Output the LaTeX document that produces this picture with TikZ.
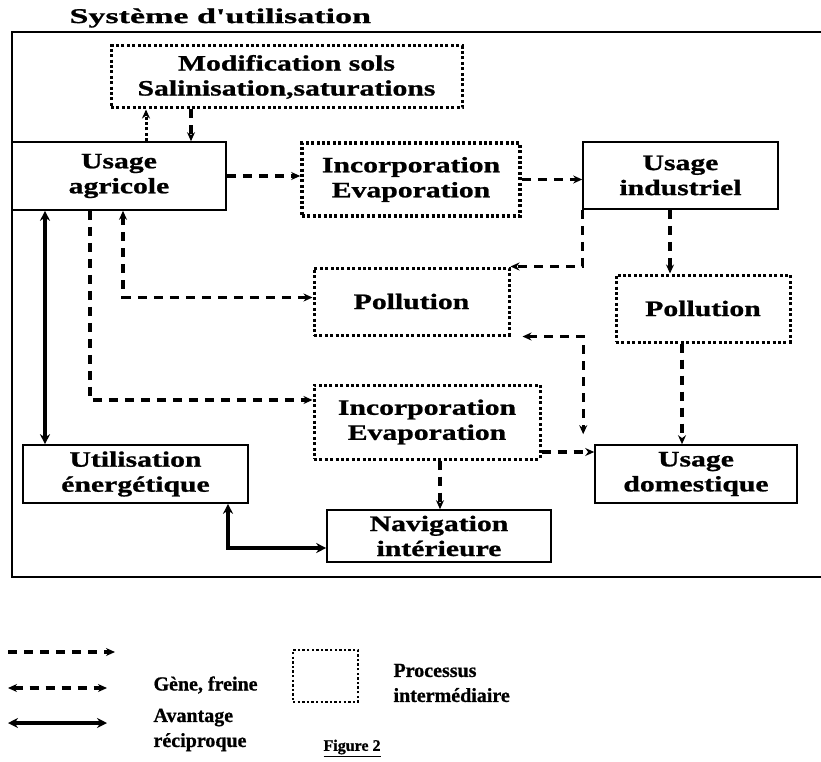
\documentclass[tikz,border=0pt]{standalone}
\usepackage{fontspec}
\setmainfont{Liberation Serif}[BoldFeatures={FakeBold=0.8}]
\newfontfamily\boxfont[FakeStretch=1.35, BoldFeatures={FakeBold=1}]{Liberation Serif}
\newfontfamily\titlefont[FakeStretch=1.62, BoldFeatures={FakeBold=1}]{Liberation Serif}
\usetikzlibrary{
  positioning,
  arrows.meta
}

\tikzset{
  usagebox/.style={draw, line width=1.6pt, align=center, inner sep=0pt,
    font=\boxfont\bfseries\fontsize{22}{25}\selectfont},
  processbox/.style={usagebox, line width=3pt, dash pattern=on 3pt off 2.4pt},
  gene/.style={line width=3.2pt, dash pattern=on 9pt off 7pt,
    -{Stealth[length=9pt,width=8pt]}},
  genedouble/.style={gene, {Stealth[length=9pt,width=8pt]}-{Stealth[length=9pt,width=8pt]}},
  genedot/.style={line width=3pt, dash pattern=on 3pt off 2.4pt,
    -{Stealth[length=9pt,width=8pt]}},
  avantage/.style={line width=3.8pt,
    {Stealth[length=10pt,width=10pt]}-{Stealth[length=10pt,width=10pt]}},
  legendtext/.style={anchor=west, align=left,
    font=\bfseries\fontsize{20}{25}\selectfont}
}

\begin{document}
\begin{tikzpicture}[x=1pt, y=-1pt]
  \useasboundingbox (0,0) rectangle (821,762);

  % frame and title
  \node[anchor=west, font=\titlefont\bfseries\fontsize{21}{24}\selectfont] (titre) at (66,18) {Système d'utilisation};
  \draw[line width=2.6pt] (821,32) -- (12,32) -- (12,577) -- (821,577);

  % usages
  \node[usagebox, minimum width=214pt, minimum height=68pt] (agri) at (119,176) {Usage\\agricole};
  \node[usagebox, minimum width=195pt, minimum height=67pt] (indus) at (680.5,175.5) {Usage\\industriel};
  \node[usagebox, minimum width=202pt, minimum height=58pt] (dom) at (696,474) {Usage\\domestique};
  \node[usagebox, minimum width=225pt, minimum height=58pt] (ener) at (135.5,474) {Utilisation\\énergétique};
  \node[usagebox, minimum width=224pt, minimum height=52pt] (nav) at (439,536) {Navigation\\intérieure};

  % processus intermediaires
  \node[processbox, minimum width=351pt, minimum height=62pt] (modif) at (286.5,77) {Modification sols\\Salinisation,saturations};
  \node[processbox, line width=3.6pt, minimum width=218pt, minimum height=73pt] (incA) at (411,179.5) {Incorporation\\Evaporation};
  \node[processbox, minimum width=195pt, minimum height=67pt] (polA) at (411.5,301.5) {Pollution};
  \node[processbox, minimum width=174pt, minimum height=67pt] (polB) at (703,308.5) {Pollution};
  \node[processbox, minimum width=226pt, minimum height=74pt] (incB) at (427,422) {Incorporation\\Evaporation};

  % liens
  \draw[genedot] ([xshift=27pt]agri.north) -- ([xshift=27pt]agri.north |- modif.south);
  \draw[gene] ([xshift=-95.5pt]modif.south) -- ([xshift=-95.5pt]modif.south |- agri.north);
  \draw[gene] (agri.east) -- (agri.east -| incA.west);
  \draw[gene] (incA.east) -- (incA.east -| indus.west);
  \draw[gene] (indus.south west) |- (polA.north east);
  \draw[gene] ([xshift=-10.5pt]indus.south) -- ([xshift=-10.5pt]indus.south |- polB.north);
  \draw[gene] ([xshift=-21pt]polB.south) -- ([xshift=-21pt]polB.south |- dom.north);
  \draw[genedouble, shorten <=12pt, shorten >=10pt] (polA.south east) -| ([xshift=-11pt]dom.north west);
  \draw[gene] ([xshift=-29pt]agri.south) |- ([yshift=22pt]incB.west);
  \draw[genedouble] ([xshift=4pt]agri.south) |- ([yshift=4pt]polA.west);
  \draw[gene] ([yshift=-30pt]incB.east) -- ([yshift=-30pt]incB.east -| dom.west);
  \draw[gene] ([xshift=13pt]incB.south) -- ([xshift=13pt]incB.south |- nav.north);
  \draw[avantage] ([xshift=-74pt]agri.south) -- ([xshift=-74pt]agri.south |- ener.north);
  \draw[avantage] ([xshift=92.5pt]ener.south) |- ([yshift=-12pt]nav.west);

  % legende
  \coordinate (la) at (8,652);
  \coordinate (lb) at (115,652);
  \coordinate (lc) at (8,688);
  \coordinate (ld) at (107,688);
  \coordinate (le) at (8,723);
  \coordinate (lf) at (107,723);
  \draw[gene] (la) -- (lb);
  \draw[genedouble] (lc) -- (ld);
  \draw[avantage] (le) -- (lf);
  \node[legendtext] (gene) at (150,685) {Gène, freine};
  \node[legendtext] (avant) at (150,730) {Avantage\\réciproque};
  \node[processbox, line width=2.4pt, dash pattern=on 2.4pt off 2.2pt, minimum width=65pt, minimum height=52pt] (proc) at (325.5,676) {};
  \node[legendtext] (processus) at (390,683) {Processus\\intermédiaire};
  \node[anchor=west, font=\bfseries\fontsize{16}{18}\selectfont] (fig) at (320,748) {\underline{Figure 2}};
\end{tikzpicture}
\end{document}
